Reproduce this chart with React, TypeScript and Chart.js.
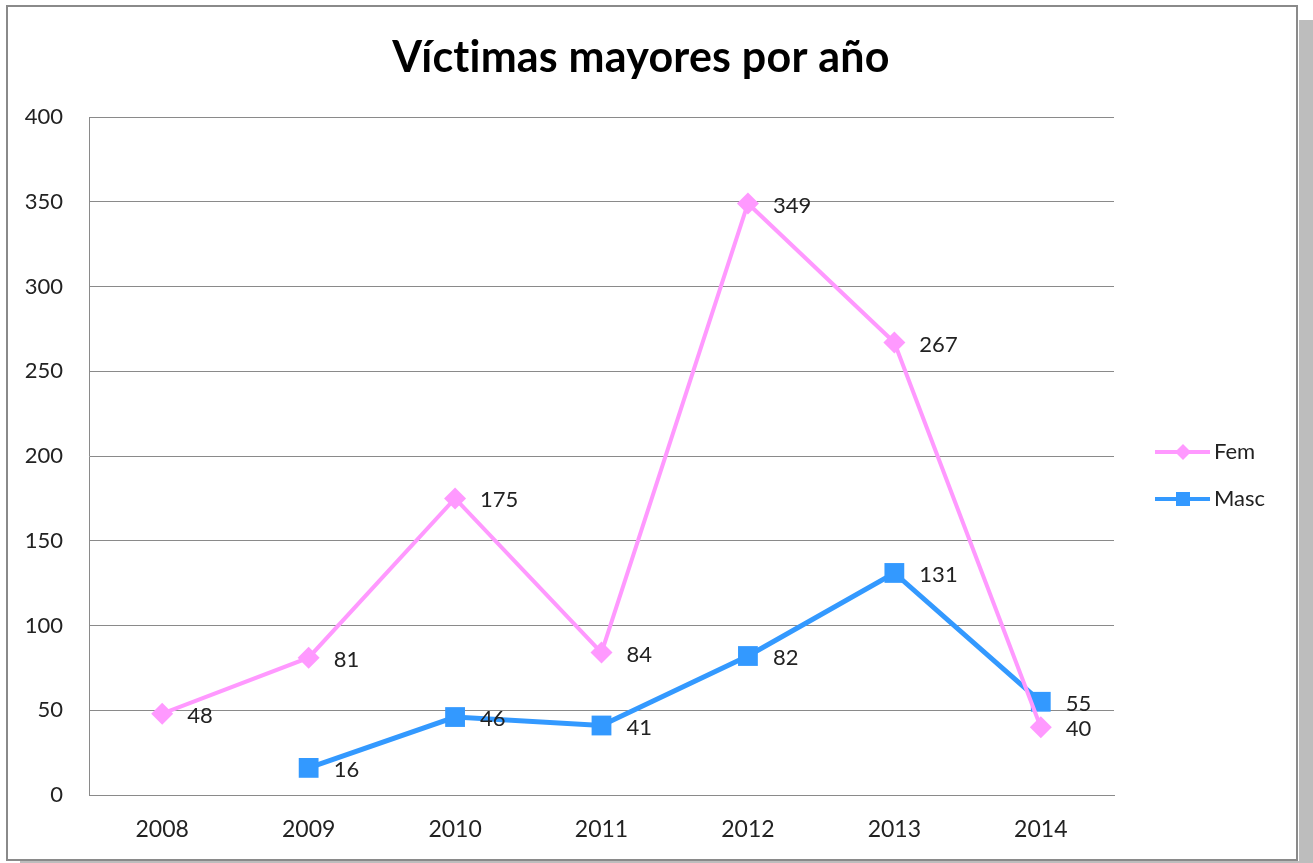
import React, { useEffect, useRef } from "react";
import { Chart, registerables } from "chart.js";

Chart.register(...registerables);

const years = ["2008", "2009", "2010", "2011", "2012", "2013", "2014"];
const femValues = [48, 81, 175, 84, 349, 267, 40];
const mascValues: (number | null)[] = [null, 16, 46, 41, 82, 131, 55];
const yTicks = [0, 50, 100, 150, 200, 250, 300, 350, 400];
const titleText = "Víctimas mayores por año";
const FEM = "#FF99FF";
const MASC = "#3399FF";
const FONT = "Lato, 'Open Sans', sans-serif";

const framePlugin = {
  id: "frame",
  beforeDraw(chart: any) {
    const ctx = chart.ctx;
    ctx.save();
    ctx.fillStyle = "#ffffff";
    ctx.fillRect(0, 0, chart.width, chart.height);
    ctx.fillStyle = "#bdbdbd";
    ctx.fillRect(1299, 20, 14, 843);
    ctx.fillRect(20, 861, 1293, 2);
    ctx.strokeStyle = "#8a8a8a";
    ctx.lineWidth = 2;
    ctx.strokeRect(7, 6, 1290, 854);
    ctx.restore();
  },
};

const titlePlugin = {
  id: "customTitle",
  afterDraw(chart: any) {
    const ctx = chart.ctx;
    ctx.save();
    ctx.font = `bold 43px ${FONT}`;
    try {
      (ctx as any).letterSpacing = "0.2px";
    } catch (e) {}
    ctx.fillStyle = "#000";
    ctx.textAlign = "center";
    ctx.textBaseline = "middle";
    ctx.fillText(titleText, 641, 58);
    ctx.restore();
  },
};

const labelsPlugin = {
  id: "pointLabels",
  afterDatasetsDraw(chart: any) {
    const ctx = chart.ctx;
    ctx.save();
    ctx.font = `22px ${FONT}`;
    ctx.fillStyle = "#222";
    ctx.textAlign = "left";
    ctx.textBaseline = "middle";
    chart.data.datasets.forEach((ds: any, i: number) => {
      const meta = chart.getDatasetMeta(i);
      meta.data.forEach((pt: any, j: number) => {
        const v = ds.data[j];
        if (v === null || v === undefined) return;
        ctx.fillText(String(v), pt.x + 25, pt.y + 2);
      });
    });
    ctx.restore();
  },
};

const legendPlugin = {
  id: "customLegend",
  afterDraw(chart: any) {
    const ctx = chart.ctx;
    const items = [
      { label: "Fem", color: FEM, style: "diamond", y: 452, lw: 4 },
      { label: "Masc", color: MASC, style: "square", y: 499, lw: 4 },
    ];
    ctx.save();
    items.forEach((it) => {
      ctx.strokeStyle = it.color;
      ctx.lineWidth = it.lw;
      ctx.beginPath();
      ctx.moveTo(1155, it.y);
      ctx.lineTo(1210, it.y);
      ctx.stroke();
      ctx.fillStyle = it.color;
      if (it.style === "diamond") {
        ctx.beginPath();
        ctx.moveTo(1183, it.y - 8);
        ctx.lineTo(1191, it.y);
        ctx.lineTo(1183, it.y + 8);
        ctx.lineTo(1175, it.y);
        ctx.closePath();
        ctx.fill();
      } else {
        ctx.fillRect(1176, it.y - 7, 14, 14);
      }
      ctx.font = `22px ${FONT}`;
      ctx.fillStyle = "#222";
      ctx.textAlign = "left";
      ctx.textBaseline = "middle";
      ctx.fillText(it.label, 1214, it.y);
    });
    ctx.restore();
  },
};

export default function App() {
  const ref = useRef<HTMLCanvasElement | null>(null);
  useEffect(() => {
    if (!ref.current) return;
    const chart = new Chart(ref.current, {
      type: "line",
      data: {
        labels: years,
        datasets: [
          {
            label: "Fem",
            data: femValues,
            borderColor: FEM,
            backgroundColor: FEM,
            borderWidth: 4,
            pointStyle: "rectRot",
            pointRadius: 11,
            pointBorderWidth: 0,
            pointBackgroundColor: FEM,
            tension: 0,
          },
          {
            label: "Masc",
            data: mascValues,
            borderColor: MASC,
            backgroundColor: MASC,
            borderWidth: 5,
            pointStyle: "rect",
            pointRadius: 14,
            pointBorderWidth: 0,
            pointBackgroundColor: MASC,
            tension: 0,
          },
        ],
      },
      options: {
        animation: false,
        responsive: false,
        maintainAspectRatio: false,
        layout: { padding: { left: 0, right: 199, top: 117, bottom: 0 } },
        plugins: {
          legend: { display: false },
          tooltip: { enabled: false },
          title: { display: false },
        },
        scales: {
          x: {
            offset: true,
            grid: { display: false, drawTicks: false },
            border: { display: true, color: "#8a8a8a", width: 1 },
            ticks: { color: "#222", font: { family: FONT, size: 23 }, padding: 21 },
            afterFit(scale: any) {
              scale.height = 68;
            },
          },
          y: {
            min: 0,
            max: 400,
            afterBuildTicks(scale: any) {
              scale.ticks = yTicks.map((v) => ({ value: v }));
            },
            grid: { color: "#8a8a8a", lineWidth: 1, drawTicks: false },
            border: { display: true, color: "#8a8a8a", width: 1 },
            ticks: { color: "#222", font: { family: FONT, size: 22 }, padding: 26 },
            afterFit(scale: any) {
              scale.width = 89;
            },
          },
        },
      },
      plugins: [framePlugin, titlePlugin, labelsPlugin, legendPlugin],
    } as any);
    return () => chart.destroy();
  }, []);
  return (
    <div style={{ position: "fixed", left: 0, top: 0, width: 1313, height: 863 }}>
      <canvas ref={ref} width={1313} height={863} style={{ display: "block" }} />
    </div>
  );
}
